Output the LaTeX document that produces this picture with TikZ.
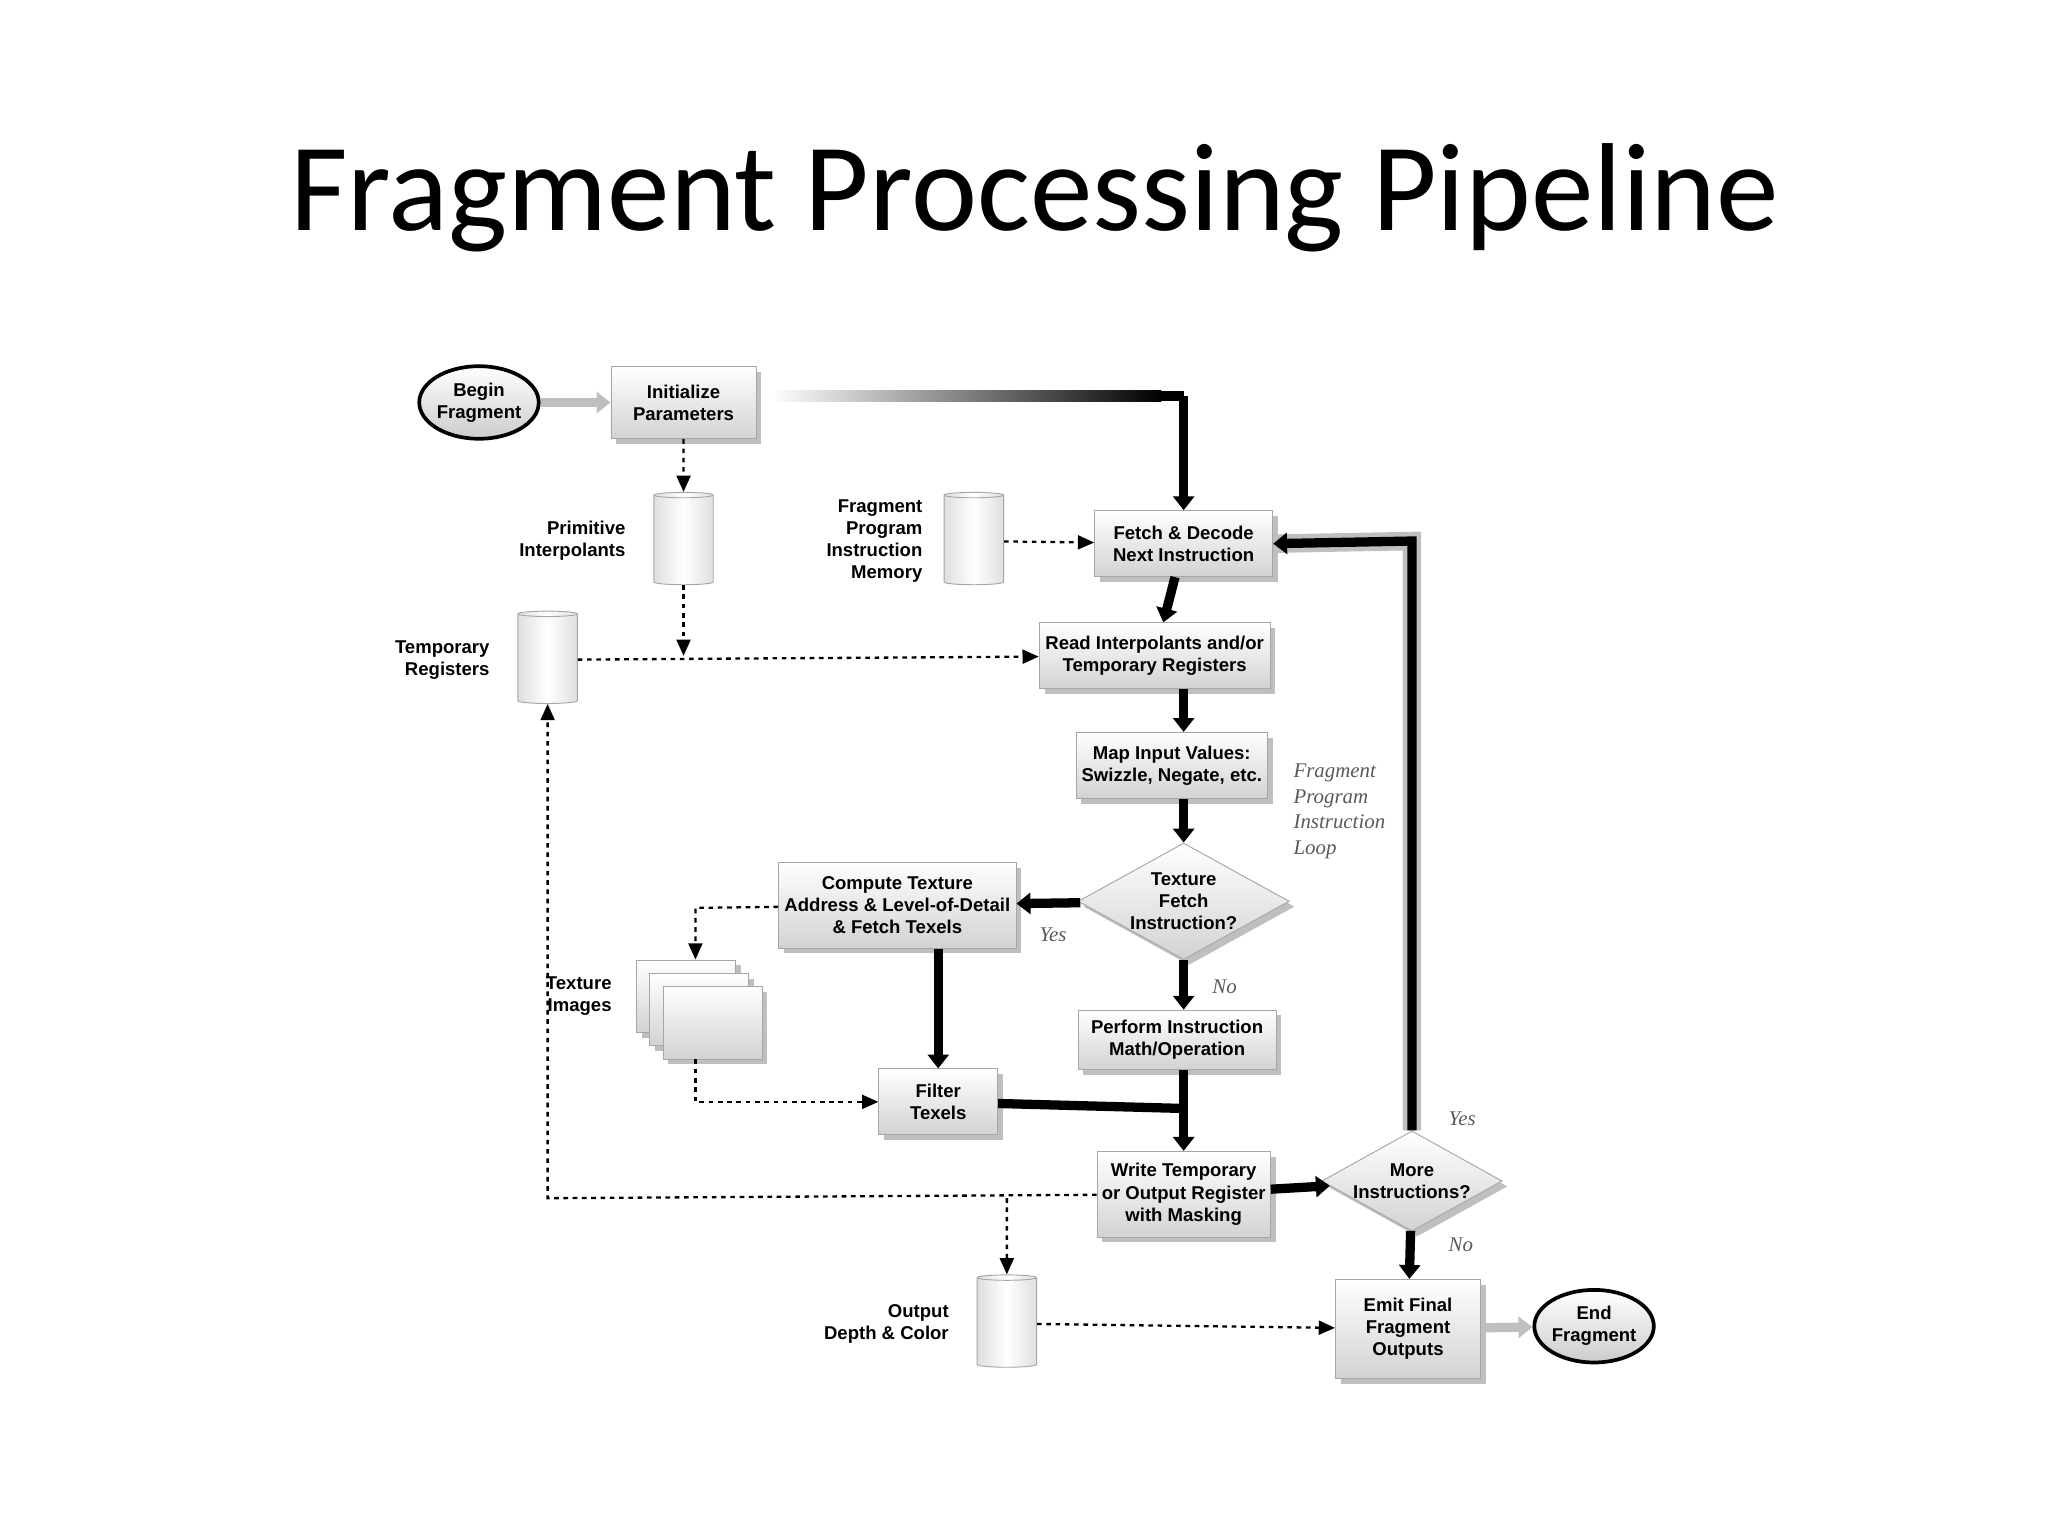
\documentclass[tikz,border=0pt]{standalone}
\usepackage{fontspec}
\setmainfont{Liberation Serif}
\setsansfont{Liberation Sans}
\newfontfamily\titlefont{Carlito}
\usetikzlibrary{positioning,shapes.geometric,shadows,arrows.meta}
\tikzset{box/.style={rectangle,draw=gray!70,top color=white,bottom color=gray!35,drop shadow={opacity=0.5},font=\fontsize{8}{9.5}\selectfont\sffamily\bfseries,align=center,inner sep=2pt},
  dia/.style={diamond,aspect=1.8,draw=gray!70,top color=white,bottom color=gray!35,drop shadow={opacity=0.5},font=\fontsize{8}{9.5}\selectfont\sffamily\bfseries,align=center,inner sep=0pt},
  term/.style={ellipse,draw=black,line width=1.6pt,top color=white,bottom color=gray!40,minimum width=1.8cm,minimum height=1.1cm,font=\fontsize{8}{9.5}\selectfont\sffamily\bfseries,align=center,inner sep=0pt},
  store/.style={cylinder,shape border rotate=90,aspect=0.35,draw=gray!70,left color=gray!25,right color=gray!25,middle color=white,minimum width=0.9cm,minimum height=1.4cm},
  lbl/.style={font=\fontsize{8}{9.5}\selectfont\sffamily\bfseries,align=right},
  note/.style={font=\fontsize{9}{11}\selectfont\itshape,text=gray!70!black,align=left},
  flow/.style={-{Triangle[length=6pt,width=9pt]},line width=4pt},
  data/.style={-{Triangle[length=7pt,width=6pt]},densely dashed,dash pattern=on 2pt off 2pt,line width=1pt},
  grey arrow/.style={-{Triangle[length=6pt,width=9pt]},line width=4pt,gray!50}}
\begin{document}
\begin{tikzpicture}[x=0.02cm,y=-0.02cm]
\useasboundingbox (0,0) rectangle (1552,1164);
\node[font=\titlefont\fontsize{54}{60}\selectfont] (title) at (784,150) {Fragment Processing Pipeline};
% nodes
\node[term] (begin) at (363,305) {Begin\\Fragment};
\node[box,minimum width=2.2cm,minimum height=1.1cm] (init) at (518,305) {Initialize\\Parameters};
\node[store] (prim) at (518,410) {};
\node[lbl,left=0.3cm of prim] (primL) {Primitive\\Interpolants};
\node[store] (temp) at (415,500) {};
\node[lbl,left=0.3cm of temp] (tempL) {Temporary\\Registers};
\node[store] (mem) at (738,410) {};
\node[lbl,left=0.2cm of mem] (memL) {Fragment\\Program\\Instruction\\Memory};
\node[box,minimum width=2.7cm,minimum height=1cm] (fetch) at (897,412) {Fetch \& Decode\\Next Instruction};
\node[box,minimum width=3.5cm,minimum height=1cm] (read) at (875,497) {Read Interpolants and/or\\Temporary Registers};
\node[box,minimum width=2.9cm,minimum height=1cm] (map) at (888,580) {Map Input Values:\\Swizzle, Negate, etc.};
\node[dia,minimum width=3.2cm] (tex) at (897,683) {Texture\\Fetch\\Instruction?};
\node[box,minimum width=3.6cm,minimum height=1.3cm] (comp) at (680,686) {Compute Texture\\Address \& Level-of-Detail\\\& Fetch Texels};
\foreach \i in {0,1,2}
  \node[box,minimum width=1.5cm,minimum height=1.1cm] (img\i) at (520+10*\i,755+10*\i) {};
\node[lbl,left=0.25cm of img0] (imgL) {Texture\\Images};
\node[box,minimum width=3cm,minimum height=0.9cm] (perf) at (892,788) {Perform Instruction\\Math/Operation};
\node[box,minimum width=1.8cm,minimum height=1cm] (filt) at (711,835) {Filter\\Texels};
\node[box,minimum width=2.6cm,minimum height=1.3cm] (write) at (897,905) {Write Temporary\\or Output Register\\with Masking};
\node[dia,minimum width=2.5cm] (more) at (1070,895) {More\\Instructions?};
\node[store] (out) at (763,1003) {};
\node[lbl,left=0.3cm of out] (outL) {Output\\Depth \& Color};
\node[box,minimum width=2.2cm,minimum height=1.5cm] (emit) at (1067,1007) {Emit Final\\Fragment\\Outputs};
\node[term] (end) at (1208,1005) {End\\Fragment};
\node[note] (loopL) at (1015,615) {Fragment\\Program\\Instruction\\Loop};
\node[note] (yes1) at (798,708) {Yes};
\node[note] (no1) at (928,748) {No};
\node[note] (yes2) at (1108,848) {Yes};
\node[note] (no2) at (1107,943) {No};
\coordinate (c1) at (897,300);
\coordinate (c2) at (1070,410);
\coordinate (c3) at (518,497);
\coordinate (c4) at (527,688);
\coordinate (c5) at (527,835);
\coordinate (c6) at (415,908);
\coordinate (c7) at (763,908);
\coordinate (c8) at (897,840);
% thick flow
\shade[left color=white,right color=black] (585,296) rectangle (880,304);
\draw[line width=4pt] (880,300) -- (c1);
\draw[flow] (c1) -- (fetch.north);
\draw[grey arrow] (begin) -- (init);
\draw[flow] (fetch) -- (read);
\draw[flow] (read.south -| fetch) -- (map.north -| fetch);
\draw[flow] (map.south -| fetch) -- (tex);
\draw[flow] (tex) -- (comp);
\draw[flow] (tex) -- (perf.north -| tex);
\draw[flow] (comp.south -| filt) -- (filt);
\draw[line width=4pt] (filt) -- (c8);
\draw[flow] (perf.south -| write) -- (write);
\draw[flow] (write) -- (more);
\draw[gray!50,line width=8pt] (more.north) -- (c2) -- (fetch.east);
\draw[flow] (more.north) -- (c2) -- (fetch.east);
\draw[flow] (more) -- (emit);
\draw[grey arrow] (emit) -- (end);
% data flow
\draw[data] (init) -- (prim);
\draw[data] (prim) -- (c3);
\draw[data] (temp) -- (read);
\draw[data] (mem) -- (fetch);
\draw[data] (comp) -- (c4) -- (img0.north -| c4);
\draw[data] (img2.south -| c5) -- (c5) -- (filt);
\draw[data] (write) -- (c6) -- (temp.south);
\draw[data] (c7) -- (out);
\draw[data] (out) -- (emit);
\end{tikzpicture}
\end{document}
